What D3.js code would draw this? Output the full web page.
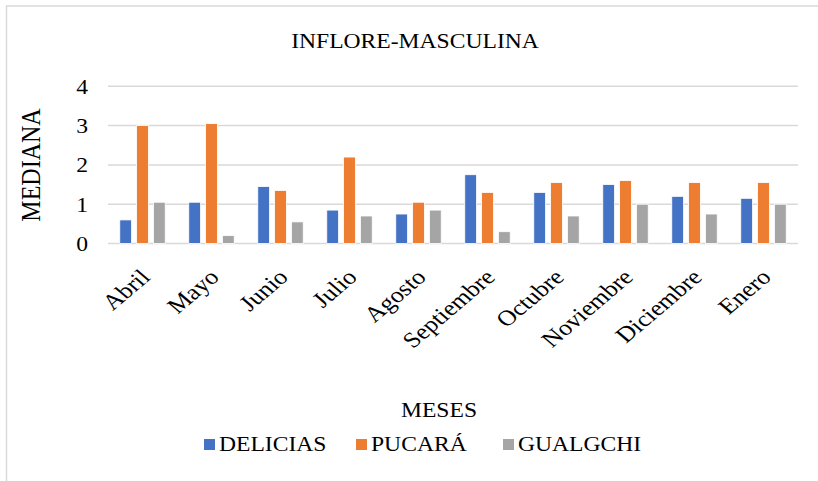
<!DOCTYPE html>
<html>
<head>
<meta charset="utf-8">
<script src="https://cdn.jsdelivr.net/npm/d3@7"></script>
<style>
  body { margin: 0; background: #fff; }
  svg { display: block; }
  svg text { font-family: 'Liberation Serif', 'Times New Roman', serif; }
</style>
</head>
<body>
<div id="app"></div>
<script>
const months = ['Abril', 'Mayo', 'Junio', 'Julio', 'Agosto', 'Septiembre', 'Octubre', 'Noviembre', 'Diciembre', 'Enero']
const seriesNames = ['DELICIAS', 'PUCARÁ', 'GUALGCHI']
const delicias = [0.6, 1.05, 1.45, 0.85, 0.75, 1.75, 1.3, 1.5, 1.2, 1.15]
const pucara = [3.0, 3.05, 1.35, 2.2, 1.05, 1.3, 1.55, 1.6, 1.55, 1.55]
const gualgchi = [1.05, 0.2, 0.55, 0.7, 0.85, 0.3, 0.7, 1.0, 0.75, 1.0]
const yTicks = [0, 1, 2, 3, 4]

const colors = ['#4472C4', '#ED7D31', '#A5A5A5']
const width = 818
const height = 481
const plot = {left: 108, right: 798, top: 86.3, bottom: 243.5}
const sx = 1.18 // the picture is a bit wider than tall, text too
const serif = "'Liberation Serif', 'Times New Roman', serif"

const svg = d3.select('#app').append('svg')
    .attr('width', width)
    .attr('height', height)
    .attr('font-family', serif)

// chart border (only top/left show in the picture)
svg.append('rect')
    .attr('x', 6.5).attr('y', 6)
    .attr('width', width + 20).attr('height', height + 20)
    .attr('fill', 'none')
    .attr('stroke', '#d9d9d9')
    .attr('stroke-width', 1.5)

const x = d3.scaleBand()
    .domain(months)
    .range([plot.left, plot.right])

const x1 = d3.scaleBand()
    .domain(seriesNames)
    .range([0, x.bandwidth()])
    .paddingInner(0.3)
    .paddingOuter(0.7)

const y = d3.scaleLinear()
    .domain([0, 4])
    .range([plot.bottom, plot.top])

// gridlines
svg.append('g')
    .selectAll('line')
    .data(yTicks)
    .join('line')
    .attr('x1', plot.left)
    .attr('x2', plot.right)
    .attr('y1', d => y(d))
    .attr('y2', d => y(d))
    .attr('stroke', '#d9d9d9')
    .attr('stroke-width', 1.5)

const yAxis = svg.append('g')
    .attr('transform', 'translate(88,0)')
    .call(d3.axisLeft(y).tickValues(yTicks).tickSize(0).tickFormat(d3.format('d')))
yAxis.attr('font-family', serif)
yAxis.select('.domain').remove()
yAxis.selectAll('text')
    .attr('x', 0)
    .attr('dy', '0.35em')
    .attr('font-size', 20)
    .attr('fill', '#000')
    .attr('transform', `scale(${sx},1)`)

const data = [delicias, pucara, gualgchi]

const groups = svg.append('g')
    .selectAll('g')
    .data(months)
    .join('g')
    .attr('transform', d => `translate(${x(d)},0)`)

groups.selectAll('rect')
    .data((m, i) => seriesNames.map((s, j) => ({s, v: data[j][i], j})))
    .join('rect')
    .attr('x', d => x1(d.s))
    .attr('width', x1.bandwidth())
    .attr('y', d => y(d.v))
    .attr('height', d => y(0) - y(d.v))
    .attr('fill', d => colors[d.j])
    .attr('stroke', '#fff')
    .attr('stroke-width', 0.8)

// x axis labels
const xAxis = svg.append('g')
    .attr('transform', `translate(0,${y(0)})`)
    .call(d3.axisBottom(x).tickSize(0))
xAxis.attr('font-family', serif)
xAxis.select('.domain').remove()
xAxis.selectAll('text')
    .attr('font-size', 22)
    .attr('fill', '#000')
    .attr('text-anchor', 'end')
    .attr('y', 0)
    .attr('dy', 0)
    .attr('transform', `translate(9,35) scale(${sx},1) rotate(-45)`)

function label(txt, tx, ty, size, rot) {
  svg.append('g')
      .attr('transform', `translate(${tx},${ty}) scale(${sx},1)` + (rot ? ` rotate(${rot})` : ''))
    .append('text')
      .attr('text-anchor', 'middle')
      .attr('font-size', size)
      .attr('fill', '#000')
      .text(txt)
}

label('INFLORE-MASCULINA', 415, 48, 20)
label('MEDIANA', 40, 165, 24, -90)
label('MESES', 439, 417, 20)

// legend
const legendX = [204, 356, 503]
const legend = svg.append('g')
    .selectAll('g')
    .data(seriesNames)
    .join('g')
    .attr('transform', (d, i) => `translate(${legendX[i]},451)`)
legend.append('rect')
    .attr('x', 0).attr('y', -12)
    .attr('width', 11).attr('height', 11)
    .attr('fill', (d, i) => colors[i])
legend.append('text')
    .attr('transform', `translate(15,0) scale(${sx},1)`)
    .attr('font-size', 20)
    .attr('fill', '#000')
    .text(d => d)
</script>
</body>
</html>
